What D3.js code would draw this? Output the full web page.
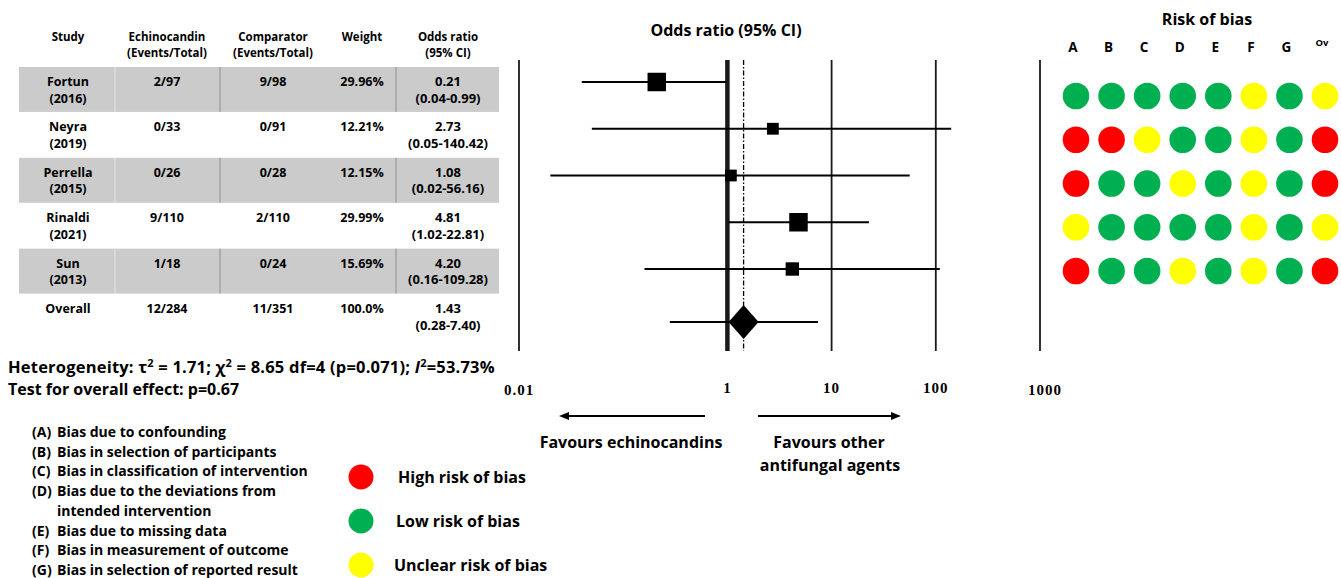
<!DOCTYPE html>
<html>
<head>
<meta charset="utf-8">
<script src="https://cdn.jsdelivr.net/npm/d3@7"></script>
<style>
  body { margin: 0; background: #fff; }
  svg text { font-family: "Open Sans", Lato, "Liberation Sans", sans-serif; font-weight: bold; fill: #000; }
  svg text.serif { font-family: "Liberation Serif", serif; }
</style>
</head>
<body>
<svg id="chart" width="1341" height="578"></svg>
<script>
// study table
var studies = ["Fortun", "Neyra", "Perrella", "Rinaldi", "Sun"];
var years = ["(2016)", "(2019)", "(2015)", "(2021)", "(2013)"];
var echinocandin = ["2/97", "0/33", "0/26", "9/110", "1/18"];
var comparator = ["9/98", "0/91", "0/28", "2/110", "0/24"];
var weights = [29.96, 12.21, 12.15, 29.99, 15.69];
var odds = [0.21, 2.73, 1.08, 4.81, 4.20];
var ci_low = [0.04, 0.05, 0.02, 1.02, 0.16];
var ci_high = [0.99, 140.42, 56.16, 22.81, 109.28];

// pooled result
var overall_or = 1.43;
var overall_ci = [0.28, 7.40];
var overall_events = ["12/284", "11/351"];
var overall_weight = "100.0%";

var axis_ticks = [0.01, 1, 10, 100, 1000];
var axis_labels = ["0.01", "1", "10", "100", "1000"];

// risk of bias
var bias_domains = ["A", "B", "C", "D", "E", "F", "G", "Ov"];
var bias_fortun = ["low", "low", "low", "low", "low", "unclear", "low", "unclear"];
var bias_neyra = ["high", "high", "unclear", "low", "low", "unclear", "low", "high"];
var bias_perrella = ["high", "low", "low", "unclear", "low", "unclear", "low", "high"];
var bias_rinaldi = ["unclear", "low", "low", "low", "low", "unclear", "low", "unclear"];
var bias_sun = ["high", "low", "low", "unclear", "low", "unclear", "low", "high"];
var bias_levels = ["high", "low", "unclear"];
var bias_level_names = ["High risk of bias", "Low risk of bias", "Unclear risk of bias"];
var bias_domain_names = [
  "(A) Bias due to confounding",
  "(B) Bias in selection of participants",
  "(C) Bias in classification of intervention",
  "(D) Bias due to the deviations from",
  "intended intervention",
  "(E) Bias due to missing data",
  "(F) Bias in measurement of outcome",
  "(G) Bias in selection of reported result"
];

var svg = d3.select("#chart");

function fmt(v) {
  return v.toFixed(2);
}

function draw_table() {
  var columns = [
    { x: 68, head: ["Study"] },
    { x: 167, head: ["Echinocandin", "(Events/Total)"] },
    { x: 273, head: ["Comparator", "(Events/Total)"] },
    { x: 362, head: ["Weight"] },
    { x: 448, head: ["Odds ratio", "(95% CI)"] }
  ];

  var rows = studies.map(function(name, i) {
    return {
      cells: [
        [name, years[i]],
        [echinocandin[i]],
        [comparator[i]],
        [weights[i].toFixed(2) + "%"],
        [fmt(odds[i]), "(" + fmt(ci_low[i]) + "-" + fmt(ci_high[i]) + ")"]
      ]
    };
  });
  rows.push({
    cells: [
      ["Overall"],
      [overall_events[0]],
      [overall_events[1]],
      [overall_weight],
      [fmt(overall_or), "(" + fmt(overall_ci[0]) + "-" + fmt(overall_ci[1]) + ")"]
    ]
  });

  var y = d3.scaleBand().domain(d3.range(rows.length)).range([67, 339]).paddingInner(0.01);
  var shaded = d3.range(rows.length).filter(function(i) { return i % 2 === 0 && i < studies.length; });

  var g = svg.append("g").attr("class", "table");

  // header
  columns.forEach(function(col) {
    col.head.forEach(function(line, k) {
      g.append("text")
        .attr("x", col.x)
        .attr("y", 41 + k * 16)
        .attr("text-anchor", "middle")
        .style("font-size", "11.5px")
        .text(line);
    });
  });

  // shaded rows
  g.selectAll("rect.band")
    .data(shaded)
    .enter().append("rect")
    .attr("class", "band")
    .attr("x", 19)
    .attr("y", function(i) { return y(i); })
    .attr("width", 480)
    .attr("height", y.bandwidth())
    .attr("fill", "#cbcbcb");

  var dividers = [{ x: 115, c: "#e4e4e4" }, { x: 220, c: "#8f8f8f" }, { x: 396, c: "#8f8f8f" }];
  shaded.forEach(function(i) {
    dividers.forEach(function(d) {
      g.append("line")
        .attr("x1", d.x).attr("x2", d.x)
        .attr("y1", y(i)).attr("y2", y(i) + y.bandwidth())
        .attr("stroke", d.c)
        .attr("stroke-width", 1);
    });
  });

  rows.forEach(function(row, i) {
    row.cells.forEach(function(lines, c) {
      lines.forEach(function(line, k) {
        g.append("text")
          .attr("x", columns[c].x)
          .attr("y", y(i) + 19 + k * 16.5)
          .attr("text-anchor", "middle")
          .style("font-size", c === 4 ? "13px" : "12.5px")
          .text(line);
      });
    });
  });
}

function draw_forest() {
  var x = d3.scaleLog().domain([0.01, 1000]).range([519, 1040]);
  var y = d3.scalePoint().domain(d3.range(studies.length)).range([82, 269]);
  var overall_y = 322;
  var top = 60, bottom = 351;
  var box = d3.scaleSqrt().domain([0, 30]).range([0, 18.5]);

  var g = svg.append("g").attr("class", "forest");

  g.append("text")
    .attr("x", 726)
    .attr("y", 36)
    .attr("text-anchor", "middle")
    .style("font-size", "16px")
    .text("Odds ratio (95% CI)");

  g.selectAll("line.grid")
    .data(axis_ticks)
    .enter().append("line")
    .attr("class", "grid")
    .attr("x1", function(d) { return x(d); })
    .attr("x2", function(d) { return x(d); })
    .attr("y1", top)
    .attr("y2", bottom)
    .attr("stroke", "#1a1a1a")
    .attr("stroke-width", function(d) { return d === 1 ? 4.5 : 1.8; });

  // pooled estimate reference
  g.append("line")
    .attr("x1", x(overall_or)).attr("x2", x(overall_or))
    .attr("y1", top).attr("y2", bottom)
    .attr("stroke", "#000")
    .attr("stroke-width", 1.3)
    .attr("stroke-dasharray", "5,2,1.5,2");

  g.selectAll("text.tick")
    .data(axis_ticks)
    .enter().append("text")
    .attr("class", "tick serif")
    .attr("x", function(d) { return x(d) + (d === 1000 ? 5 : 0); })
    .attr("y", function(d) { return (d === 0.01 || d === 1000) ? 395 : 393; })
    .attr("text-anchor", "middle")
    .style("font-size", "15px")
    .style("letter-spacing", "1px")
    .text(function(d, i) { return axis_labels[i]; });

  // confidence intervals
  g.selectAll("line.ci")
    .data(studies)
    .enter().append("line")
    .attr("class", "ci")
    .attr("x1", function(d, i) { return x(ci_low[i]); })
    .attr("x2", function(d, i) { return x(ci_high[i]); })
    .attr("y1", function(d, i) { return y(i); })
    .attr("y2", function(d, i) { return y(i); })
    .attr("stroke", "#000")
    .attr("stroke-width", 2);

  g.selectAll("rect.point")
    .data(studies)
    .enter().append("rect")
    .attr("class", "point")
    .attr("x", function(d, i) { return x(odds[i]) - box(weights[i]) / 2; })
    .attr("y", function(d, i) { return y(i) - box(weights[i]) / 2; })
    .attr("width", function(d, i) { return box(weights[i]); })
    .attr("height", function(d, i) { return box(weights[i]); })
    .attr("fill", "#000");

  g.append("line")
    .attr("x1", x(overall_ci[0])).attr("x2", x(overall_ci[1]))
    .attr("y1", overall_y).attr("y2", overall_y)
    .attr("stroke", "#000")
    .attr("stroke-width", 2);

  var cx = x(overall_or);
  g.append("path")
    .attr("d", "M" + (cx - 15) + "," + overall_y + "L" + cx + "," + (overall_y - 17) +
      "L" + (cx + 15) + "," + overall_y + "L" + cx + "," + (overall_y + 17) + "Z")
    .attr("fill", "#000");

  // favours arrows
  var defs = svg.append("defs");
  defs.append("marker")
    .attr("id", "head")
    .attr("viewBox", "0 0 10 10")
    .attr("refX", 8).attr("refY", 5)
    .attr("markerWidth", 5).attr("markerHeight", 5)
    .attr("orient", "auto-start-reverse")
    .append("path")
    .attr("d", "M0,1L10,5L0,9Z")
    .attr("fill", "#000");

  g.append("line")
    .attr("x1", 705).attr("x2", 561).attr("y1", 416).attr("y2", 416)
    .attr("stroke", "#000").attr("stroke-width", 2)
    .attr("marker-end", "url(#head)");
  g.append("line")
    .attr("x1", 758).attr("x2", 899).attr("y1", 416).attr("y2", 416)
    .attr("stroke", "#000").attr("stroke-width", 2)
    .attr("marker-end", "url(#head)");

  g.append("text").attr("x", 631).attr("y", 448).attr("text-anchor", "middle")
    .style("font-size", "16px").text("Favours echinocandins");
  g.append("text").attr("x", 829).attr("y", 448).attr("text-anchor", "middle")
    .style("font-size", "16px").text("Favours other");
  g.append("text").attr("x", 830).attr("y", 471).attr("text-anchor", "middle")
    .style("font-size", "16px").text("antifungal agents");
}

function draw_bias() {
  var colour = d3.scaleOrdinal().domain(bias_levels).range(["#ff0000", "#00b050", "#ffff00"]);
  var x = d3.scalePoint().domain(bias_domains).range([1076, 1325]);
  var rows = [bias_fortun, bias_neyra, bias_perrella, bias_rinaldi, bias_sun];
  var y = d3.scalePoint().domain(d3.range(rows.length)).range([96, 271]);

  var g = svg.append("g").attr("class", "bias");

  g.append("text")
    .attr("x", 1207).attr("y", 25)
    .attr("text-anchor", "middle")
    .style("font-size", "16px")
    .text("Risk of bias");

  g.selectAll("text.domain")
    .data(bias_domains)
    .enter().append("text")
    .attr("class", "domain")
    .attr("x", function(d) { return x(d) - 3; })
    .attr("y", function(d) { return d === "Ov" ? 46 : 52; })
    .attr("text-anchor", "middle")
    .style("font-size", function(d) { return d === "Ov" ? "9.5px" : "13.5px"; })
    .text(function(d) { return d; });

  rows.forEach(function(row, r) {
    g.selectAll("circle.r" + r)
      .data(row)
      .enter().append("circle")
      .attr("class", "r" + r)
      .attr("cx", function(d, i) { return x(bias_domains[i]); })
      .attr("cy", y(r))
      .attr("r", 13.3)
      .attr("fill", function(d) { return colour(d); });
  });

  // level legend
  var ly = d3.scalePoint().domain(bias_levels).range([477, 565]);
  g.selectAll("circle.key")
    .data(bias_levels)
    .enter().append("circle")
    .attr("class", "key")
    .attr("cx", 361)
    .attr("cy", function(d) { return ly(d); })
    .attr("r", 12.5)
    .attr("fill", function(d) { return colour(d); });

  g.selectAll("text.key")
    .data(bias_levels)
    .enter().append("text")
    .attr("class", "key")
    .attr("x", function(d, i) { return 398 - i * 2; })
    .attr("y", function(d) { return ly(d) + 6; })
    .style("font-size", "16px")
    .text(function(d, i) { return bias_level_names[i]; });

  // domain legend
  bias_domain_names.forEach(function(name, i) {
    var t = g.append("text")
      .attr("y", 437 + i * 19.7)
      .style("font-size", "14px");
    if (name.charAt(0) === "(") {
      t.append("tspan").attr("x", 32).text(name.substring(0, 3));
      t.append("tspan").attr("x", 57).text(name.substring(4));
    } else {
      t.attr("x", 57).text(name);
    }
  });
}

function draw_stats() {
  var t = svg.append("text")
    .attr("x", 8).attr("y", 373)
    .style("font-size", "16.5px")
    .style("letter-spacing", "0.2px");
  t.append("tspan").text("Heterogeneity: \u03c4");
  t.append("tspan").attr("dy", -6).style("font-size", "11px").text("2");
  t.append("tspan").attr("dy", 6).text(" = 1.71; \u03c7");
  t.append("tspan").attr("dy", -6).style("font-size", "11px").text("2");
  t.append("tspan").attr("dy", 6).text(" = 8.65 df=4 (p=0.071); ");
  t.append("tspan").style("font-style", "italic").text("I");
  t.append("tspan").attr("dy", -6).style("font-size", "11px").text("2");
  t.append("tspan").attr("dy", 6).text("=53.73%");

  svg.append("text")
    .attr("x", 8).attr("y", 395)
    .style("font-size", "16px")
    .text("Test for overall effect: p=0.67");
}

draw_table();
draw_forest();
draw_bias();
draw_stats();
</script>
</body>
</html>
